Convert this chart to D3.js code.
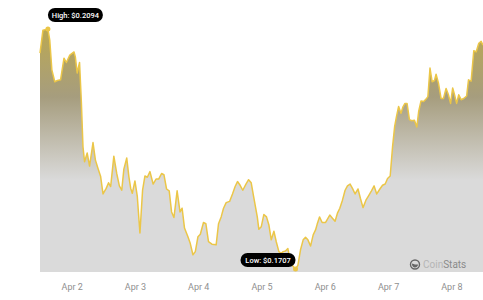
<!DOCTYPE html>
<html>
<head>
<meta charset="utf-8">
<script src="https://cdn.jsdelivr.net/npm/d3@7"></script>
<style>
  body { margin: 0; background: #fff; font-family: Roboto, "Noto Sans", sans-serif; }
</style>
</head>
<body>
<script>
// hours since Apr 1 12:00
const hours = [0, 1.1, 2.0, 3.0, 3.7, 4.5, 5.6, 6.6, 7.8, 9.1, 10.0, 11.3, 12.9, 13.4, 14.1, 15.0, 15.7, 16.3, 16.9, 17.9,
  18.8, 20.1, 21.0, 22.0, 23.0, 23.9, 25.1, 26.0, 26.8, 28.0, 29.1, 30.1, 31.0, 31.8, 32.9, 33.7, 34.4, 35.0, 36.0, 36.9,
  37.9, 38.9, 39.8, 40.7, 41.7, 42.9, 44.0, 45.0, 46.1, 47.0, 48.0, 49.0, 49.9, 50.8, 52.0, 53.1, 53.9, 54.8, 56.1, 57.0,
  58.0, 58.9, 59.9, 60.8, 62.0, 62.9, 63.9, 65.2, 66.8, 67.7, 68.7, 69.6, 70.6, 71.9, 73.0, 74.0, 74.9, 75.9, 76.9, 78.1,
  79.1, 80.1, 81.0, 82.4, 83.0, 83.9, 84.9, 85.9, 86.8, 87.7, 88.7, 89.6, 90.6, 91.5, 92.2, 93.1, 94.0, 94.8, 95.2, 96.9,
  97.8, 98.8, 99.8, 100.7, 101.6, 102.6, 103.6, 104.5, 105.1, 106.0, 107.0, 108.3, 109.9, 110.9, 111.9, 112.8, 113.7, 114.7,
  115.7, 116.6, 117.6, 118.5, 119.5, 120.6, 121.5, 122.5, 123.6, 124.6, 125.7, 126.7, 127.7, 128.9, 129.9, 130.9, 131.8,
  132.8, 133.7, 134.5, 135.2, 136.0, 136.9, 137.6, 138.4, 139.2, 140.1, 141.0, 142.0, 142.9, 143.6, 144.5, 145.5, 146.4,
  147.1, 147.9, 148.7, 149.6, 150.2, 151.1, 152.1, 153.0, 154.0, 154.9, 155.7, 156.5, 157.2, 158.0, 158.8, 159.7, 160.7,
  161.8, 162.5, 163.5, 164.5, 165.4, 166.4, 167.3, 168];

const prices = [0.2055, 0.2092, 0.2093, 0.2094, 0.2076, 0.2028, 0.2009, 0.2011, 0.2012, 0.2047, 0.2040, 0.2052, 0.2057, 0.2049, 0.2023, 0.2040, 0.1975, 0.1904, 0.1880, 0.1894,
  0.1873, 0.1911, 0.1883, 0.1869, 0.1856, 0.1828, 0.1837, 0.1846, 0.1840, 0.1889, 0.1861, 0.1841, 0.1834, 0.1868, 0.1886, 0.1856, 0.1837, 0.1829, 0.1849, 0.1824,
  0.1765, 0.1834, 0.1857, 0.1855, 0.1864, 0.1844, 0.1852, 0.1852, 0.1861, 0.1859, 0.1836, 0.1833, 0.1799, 0.1790, 0.1833, 0.1799, 0.1805, 0.1773, 0.1759, 0.1748,
  0.1730, 0.1735, 0.1759, 0.1763, 0.1782, 0.1780, 0.1751, 0.1747, 0.1746, 0.1780, 0.1791, 0.1805, 0.1814, 0.1816, 0.1828, 0.1840, 0.1848, 0.1842, 0.1834, 0.1844,
  0.1851, 0.1846, 0.1824, 0.1791, 0.1771, 0.1775, 0.1795, 0.1791, 0.1778, 0.1754, 0.1768, 0.1751, 0.1735, 0.1732, 0.1735, 0.1736, 0.1740, 0.1722, 0.1715, 0.1707,
  0.1713, 0.1738, 0.1754, 0.1758, 0.1754, 0.1744, 0.1762, 0.1770, 0.1779, 0.1791, 0.1782, 0.1782, 0.1794, 0.1789, 0.1784, 0.1797, 0.1805, 0.1818,
  0.1834, 0.1841, 0.1844, 0.1837, 0.1828, 0.1836, 0.1821, 0.1806, 0.1818, 0.1825, 0.1833, 0.1841, 0.1828, 0.1836, 0.1842, 0.1844, 0.1853,
  0.1857, 0.1904, 0.1937, 0.1953, 0.1969, 0.1958, 0.1968, 0.1974, 0.1974, 0.1948, 0.1946, 0.1947, 0.1936, 0.1961, 0.1978, 0.1977, 0.1981,
  0.1985, 0.2031, 0.2009, 0.2011, 0.2021, 0.2007, 0.1982, 0.1982, 0.1998, 0.1988, 0.1974, 0.1999, 0.1988, 0.1974, 0.1988, 0.1980, 0.1982,
  0.1986, 0.2012, 0.2010, 0.2059, 0.2057, 0.2071, 0.2074, 0.2068];

const tickDays = [2, 3, 4, 5, 6, 7, 8];
const tickLabels = ["Apr 2", "Apr 3", "Apr 4", "Apr 5", "Apr 6", "Apr 7", "Apr 8"];

const startDate = new Date(2024, 3, 1, 12);
const data = hours.map((h, i) => ({ t: new Date(+startDate + h * 3600e3), v: prices[i] }));

const width = 483, height = 300;
const plot = { left: 40, right: 483, top: 29, low: 269, bottom: 272 };

const svg = d3.select("body").append("svg")
  .attr("width", width)
  .attr("height", height);

const xScale = d3.scaleTime()
  .domain(d3.extent(data, d => d.t))
  .range([plot.left, plot.right]);

const yScale = d3.scaleLinear()
  .domain(d3.extent(data, d => d.v))
  .range([plot.low, plot.top]);

// gradient fill
const defs = svg.append("defs");
const grad = defs.append("linearGradient")
  .attr("id", "fillGrad")
  .attr("gradientUnits", "userSpaceOnUse")
  .attr("x1", 0).attr("x2", 0)
  .attr("y1", plot.top).attr("y2", 180);
grad.append("stop").attr("offset", "0%").attr("stop-color", "#bba852");
grad.append("stop").attr("offset", "45%").attr("stop-color", "#a69d7e");
grad.append("stop").attr("offset", "100%").attr("stop-color", "#dadada");

const area = d3.area()
  .x(d => xScale(d.t))
  .y0(plot.bottom)
  .y1(d => yScale(d.v));

const line = d3.line()
  .x(d => xScale(d.t))
  .y(d => yScale(d.v));

svg.append("path")
  .datum(data)
  .attr("fill", "url(#fillGrad)")
  .attr("d", area);

svg.append("path")
  .datum(data)
  .attr("fill", "none")
  .attr("stroke", "#ebc648")
  .attr("stroke-width", 1.5)
  .attr("stroke-linejoin", "round")
  .attr("d", line);

// x axis
const xAxis = d3.axisBottom(xScale)
  .tickValues(tickDays.map(d => new Date(2024, 3, d)))
  .tickFormat((d, i) => tickLabels[i])
  .tickSize(0)
  .tickPadding(12);

const gx = svg.append("g")
  .attr("transform", "translate(0," + plot.bottom + ")")
  .call(xAxis);
gx.select(".domain").remove();
gx.selectAll("text")
  .attr("fill", "#8f8f8f")
  .style("font-size", "9px")
  .style("font-family", "Roboto, sans-serif");

// high / low markers
const hi = data.reduce((a, b) => (b.v > a.v ? b : a));
const lo = data.reduce((a, b) => (b.v < a.v ? b : a));

function badge(x, y, text) {
  const g = svg.append("g");
  g.append("rect")
    .attr("x", x).attr("y", y)
    .attr("width", 55).attr("height", 14)
    .attr("rx", 7)
    .attr("fill", "#000");
  g.append("text")
    .attr("x", x + 27.5).attr("y", y + 9.8)
    .attr("text-anchor", "middle")
    .attr("fill", "#fff")
    .style("font-size", "7.5px")
    .style("font-weight", 500)
    .style("font-family", "Roboto, sans-serif")
    .text(text);
}

badge(xScale(hi.t), yScale(hi.v) - 21, "High: $" + hi.v.toFixed(4));
badge(xScale(lo.t) - 55, yScale(lo.v) - 16, "Low: $" + lo.v.toFixed(4));

[hi, lo].forEach(d => {
  svg.append("circle")
    .attr("cx", xScale(d.t))
    .attr("cy", yScale(d.v))
    .attr("r", 2.5)
    .attr("fill", "#ebc648");
});

// watermark
const wm = svg.append("g").attr("transform", "translate(415,264.5)");
wm.append("circle").attr("r", 4.5).attr("fill", "none").attr("stroke", "#666").attr("stroke-width", 1.4);
wm.append("path")
  .attr("d", d3.arc()({ innerRadius: 0, outerRadius: 3, startAngle: Math.PI * 0.5, endAngle: Math.PI * 1.6 }))
  .attr("fill", "#666");
const wt = wm.append("text")
  .attr("x", 8).attr("y", 3.5)
  .style("font-size", "10px")
  .style("font-family", "Roboto, sans-serif");
wt.append("tspan").attr("fill", "#b5b5b5").text("Coin");
wt.append("tspan").attr("fill", "#8a8a8a").text("Stats");
</script>
</body>
</html>
